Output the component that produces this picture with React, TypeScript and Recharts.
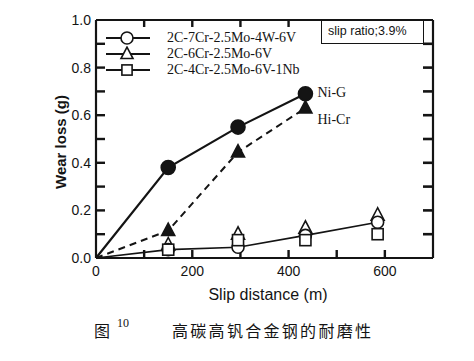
import React from 'react';
import { LineChart, Line, XAxis, YAxis, Legend } from 'recharts';

// slip distance (m) and wear loss (g)
const distance = [0, 150, 295, 435, 585];
const niG = [0, 0.38, 0.55, 0.69, null];
const hiCr = [0, 0.115, 0.445, 0.63, null];
const cr7 = [0, 0.035, 0.045, 0.095, 0.15];
const cr6 = [null, 0.055, 0.1, 0.125, 0.18];
const nb = [null, 0.035, 0.075, 0.075, 0.1];

const xTicks = [0, 100, 200, 300, 400, 500, 600, 700];
const yTicks = [0, 0.1, 0.2, 0.3, 0.4, 0.5, 0.6, 0.7, 0.8, 0.9, 1.0];
const xMinor = [100, 200, 300, 400, 500, 600];
const yMinor = [0.1, 0.2, 0.3, 0.4, 0.5, 0.6, 0.7, 0.8, 0.9];

const legendItems = [
    { name: '2C-7Cr-2.5Mo-4W-6V', shape: 'circle' },
    { name: '2C-6Cr-2.5Mo-6V', shape: 'triangle' },
    { name: '2C-4Cr-2.5Mo-6V-1Nb', shape: 'square' },
];

const rows = distance.map((d, i) => ({
    d,
    niG: niG[i],
    hiCr: hiCr[i],
    cr7: cr7[i],
    cr6: cr6[i],
    nb: nb[i],
}));

// tick positions along the frame, placed through the chart's own scales
const bottomMarks = xMinor.map((d) => ({ d, t: 0 }));
const topMarks = xMinor.map((d) => ({ d, t: 1 }));
const leftMarks = yMinor.map((t) => ({ d: 0, t }));
const rightMarks = yMinor.map((t) => ({ d: 700, t }));

const INK = '#141414';
const SANS = '"Liberation Sans", Arial, sans-serif';
const SERIF = '"Liberation Serif", "Times New Roman", serif';

const Marker = ({ shape, cx, cy, filled, size = 7 }: any) => {
    const fill = filled ? INK : '#fff';
    if (shape === 'circle') {
        return <circle cx={cx} cy={cy} r={size} fill={fill} stroke={INK} strokeWidth={1.6} />;
    }
    if (shape === 'triangle') {
        const h = size * 1.9;
        const pts = `${cx},${cy - h * 0.6} ${cx - size},${cy + h * 0.4} ${cx + size},${cy + h * 0.4}`;
        return <polygon points={pts} fill={fill} stroke={INK} strokeWidth={1.6} />;
    }
    const s = size * 0.85;
    return <rect x={cx - s} y={cy - s} width={s * 2} height={s * 2} fill={fill} stroke={INK} strokeWidth={1.6} />;
};

const makeDot = (shape: string, filled: boolean, size?: number) => (p: any) => {
    const key = `${shape}-${filled}-${p.index}`;
    if (p.value == null || p.cy == null || p.payload.d === 0) return <g key={key} />;
    return (
        <g key={key}>
            <Marker shape={shape} cx={p.cx} cy={p.cy} filled={filled} size={size} />
        </g>
    );
};

// small inward tick drawn at a frame point
const tickDot = (side: string, len: number) => (p: any) => {
    const key = `tick-${side}-${p.index}`;
    const { cx, cy } = p;
    if (cx == null || cy == null) return <g key={key} />;
    if (side === 'bottom') return <rect key={key} x={cx - 1.2} y={cy - len} width={2.4} height={len} fill={INK} />;
    if (side === 'top') return <rect key={key} x={cx - 1.2} y={cy} width={2.4} height={len} fill={INK} />;
    if (side === 'left') return <rect key={key} x={cx} y={cy - 1.2} width={len} height={2.4} fill={INK} />;
    return <rect key={key} x={cx - len} y={cy - 1.3} width={len} height={2.6} fill={INK} />;
};

const endLabel = (text: string, dx: number, dy: number) => (p: any) => {
    if (p.index !== 3) return <g key={`lab-${p.index}`} />;
    return (
        <text key={`lab-${p.index}`} x={p.x + dx} y={p.y + dy} fontFamily={SERIF} fontSize={14} fill={INK}>
            {text}
        </text>
    );
};

const bottomTick = (p: any) => {
    const { x, y, payload } = p;
    const v = payload.value;
    return (
        <text key={`b-${v}`} x={x} y={y + 18} textAnchor="middle" fontFamily={SANS} fontSize={14} fill={INK} stroke="none">
            {v % 200 === 0 ? v : ''}
        </text>
    );
};

const leftTick = (p: any) => {
    const { x, y, payload } = p;
    const v = payload.value;
    const major = Math.round(v * 10) % 2 === 0;
    return (
        <text key={`l-${v}`} x={x - 5} y={y + 5} textAnchor="end" fontFamily={SANS} fontSize={14} fill={INK} stroke="none">
            {major ? v.toFixed(1) : ''}
        </text>
    );
};

const LegendBox = () => (
    <div style={{ fontFamily: SERIF, fontSize: 14, color: INK, lineHeight: '16px' }}>
        {legendItems.map((item) => (
            <div key={item.name} style={{ display: 'flex', alignItems: 'center', height: 16 }}>
                <svg width={63} height={16} style={{ display: 'block' }}>
                    <line x1={2} x2={46} y1={8} y2={8} stroke={INK} strokeWidth={2} />
                    <Marker shape={item.shape} cx={23} cy={8} filled={false} size={6} />
                </svg>
                <span>{item.name}</span>
            </div>
        ))}
    </div>
);

const App: React.FC = () => {
    return (
        <div style={{ position: 'absolute', left: 0, top: 0, width: 474, height: 361, background: '#fff' }}>
            <LineChart
                width={474}
                height={361}
                data={rows}
                margin={{ top: 19, right: 40, bottom: 73, left: 56 }}
            >
                <XAxis
                    xAxisId="bottom"
                    dataKey="d"
                    type="number"
                    domain={[0, 700]}
                    ticks={xTicks}
                    interval={0}
                    height={30}
                    tickSize={0}
                    tickMargin={0}
                    tickLine={false}
                    axisLine={{ stroke: INK, strokeWidth: 2.2 }}
                    tick={bottomTick}
                />
                <XAxis
                    xAxisId="top"
                    orientation="top"
                    dataKey="d"
                    type="number"
                    domain={[0, 700]}
                    height={1}
                    tick={false}
                    tickLine={false}
                    axisLine={{ stroke: INK, strokeWidth: 2.2 }}
                />
                <YAxis
                    yAxisId="left"
                    type="number"
                    domain={[0, 1]}
                    ticks={yTicks}
                    interval={0}
                    width={40}
                    tickSize={0}
                    tickMargin={0}
                    tickLine={false}
                    axisLine={{ stroke: INK, strokeWidth: 2.2 }}
                    tick={leftTick}
                />
                <YAxis
                    yAxisId="right"
                    orientation="right"
                    type="number"
                    domain={[0, 1]}
                    width={1}
                    tick={false}
                    tickLine={false}
                    axisLine={{ stroke: INK, strokeWidth: 2.2 }}
                />

                <Legend
                    layout="vertical"
                    align="center"
                    verticalAlign="middle"
                    content={<LegendBox />}
                    wrapperStyle={{ position: 'absolute', left: 104, top: 30, width: 230, height: 50 }}
                />

                {/* inward frame ticks */}
                <Line xAxisId="bottom" yAxisId="left" data={bottomMarks} dataKey="t" stroke="none" legendType="none" isAnimationActive={false} dot={tickDot('bottom', 8)} activeDot={false} />
                <Line xAxisId="bottom" yAxisId="left" data={topMarks} dataKey="t" stroke="none" legendType="none" isAnimationActive={false} dot={tickDot('top', 7)} activeDot={false} />
                <Line xAxisId="bottom" yAxisId="left" data={leftMarks} dataKey="t" stroke="none" legendType="none" isAnimationActive={false} dot={tickDot('left', 9)} activeDot={false} />
                <Line xAxisId="bottom" yAxisId="left" data={rightMarks} dataKey="t" stroke="none" legendType="none" isAnimationActive={false} dot={tickDot('right', 10)} activeDot={false} />

                <Line xAxisId="bottom" yAxisId="left" dataKey="cr6" stroke="none" isAnimationActive={false} dot={makeDot('triangle', false, 6.5)} activeDot={false} />
                <Line xAxisId="bottom" yAxisId="left" dataKey="cr7" stroke={INK} strokeWidth={1.6} isAnimationActive={false} dot={makeDot('circle', false, 6)} activeDot={false} />
                <Line xAxisId="bottom" yAxisId="left" dataKey="nb" stroke="none" isAnimationActive={false} dot={makeDot('square', false, 6.5)} activeDot={false} />
                <Line
                    xAxisId="bottom"
                    yAxisId="left"
                    dataKey="hiCr"
                    stroke={INK}
                    strokeWidth={2}
                    strokeDasharray="7 5"
                    isAnimationActive={false}
                    dot={makeDot('triangle', true, 6.5)}
                    activeDot={false}
                    label={endLabel('Hi-Cr', 12, 16)}
                />
                <Line
                    xAxisId="bottom"
                    yAxisId="left"
                    dataKey="niG"
                    stroke={INK}
                    strokeWidth={2.2}
                    isAnimationActive={false}
                    dot={makeDot('circle', true, 7)}
                    activeDot={false}
                    label={endLabel('Ni-G', 12, 3)}
                />
            </LineChart>

            {/* slip ratio box */}
            <div
                style={{
                    position: 'absolute', left: 321, top: 20, width: 103, height: 24,
                    border: `1.8px solid ${INK}`, boxSizing: 'border-box', background: '#fff',
                    fontFamily: SANS, fontSize: 12.5, color: INK, lineHeight: '20px', paddingLeft: 6,
                }}
            >
                slip ratio;3.9%
            </div>

            {/* axis titles */}
            <div
                style={{
                    position: 'absolute', left: 60, top: 142, transform: 'translate(-50%, -50%) rotate(-90deg)',
                    fontFamily: SANS, fontSize: 15, color: INK, whiteSpace: 'nowrap', fontWeight: 'bold',
                }}
            >
                Wear loss (g)
            </div>
            <div
                style={{
                    position: 'absolute', left: 268, top: 295, transform: 'translate(-50%, -50%)',
                    fontFamily: SANS, fontSize: 16, color: INK, whiteSpace: 'nowrap',
                }}
            >
                Slip distance (m)
            </div>

            {/* caption */}
            <div style={{ position: 'absolute', left: 94, top: 320, fontFamily: '"Noto Sans CJK SC", sans-serif', fontSize: 16, color: INK, lineHeight: '20px' }}>
                图
            </div>
            <div style={{ position: 'absolute', left: 117, top: 316, fontFamily: SERIF, fontSize: 12, color: INK, lineHeight: '14px' }}>
                10
            </div>
            <div
                style={{
                    position: 'absolute', left: 172, top: 320, fontFamily: '"Noto Sans CJK SC", sans-serif',
                    fontSize: 16, letterSpacing: 2.3, color: INK, lineHeight: '20px', whiteSpace: 'nowrap',
                }}
            >
                高碳高钒合金钢的耐磨性
            </div>
        </div>
    );
};

export default App;
